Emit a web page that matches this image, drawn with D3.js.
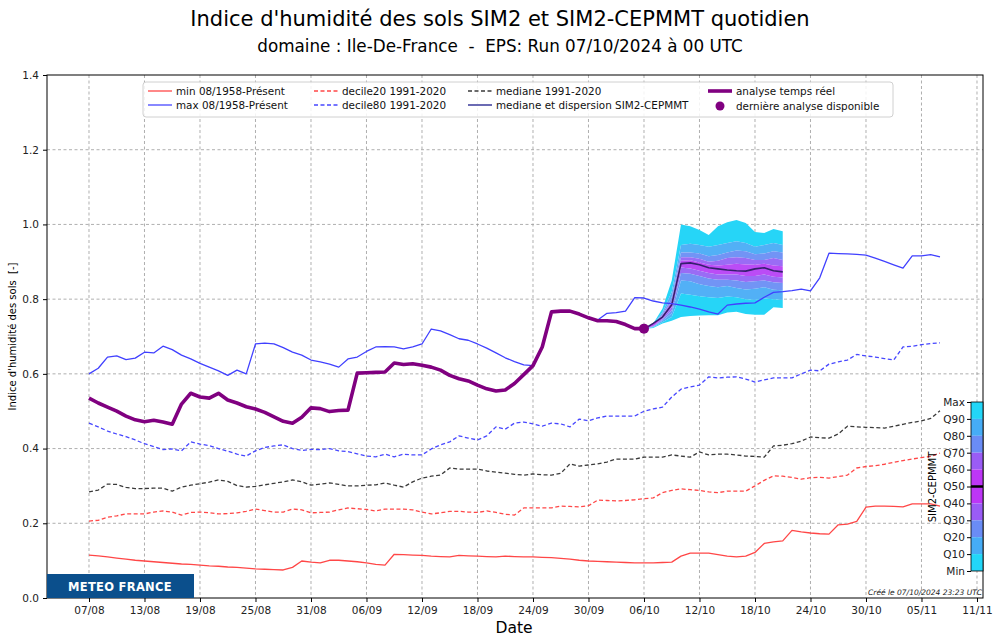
<!DOCTYPE html>
<html><head><meta charset="utf-8">
<script src="https://cdn.jsdelivr.net/npm/d3@7"></script>
<style>
html,body{margin:0;padding:0;background:#fff;}
svg{display:block;font-family:"DejaVu Sans",sans-serif;}
</style></head>
<body><svg id="chart" width="1000" height="643"></svg>
<script>
// ---- DATA (day offsets counted from 07/08/2024) ----
const startDate = "2024-08-07";
const xTickLabels = ["07/08","13/08","19/08","25/08","31/08","06/09","12/09","18/09","24/09","30/09","06/10","12/10","18/10","24/10","30/10","05/11","11/11"];
const yTicks = [0.0,0.2,0.4,0.6,0.8,1.0,1.2,1.4];

const minSeries = [0.115,0.113,0.110,0.107,0.104,0.101,0.099,0.097,0.095,0.093,0.091,0.090,0.088,0.086,0.085,0.083,0.082,0.080,0.078,0.077,0.076,0.075,0.082,0.099,0.096,0.094,0.101,0.101,0.099,0.097,0.094,0.090,0.088,0.117,0.116,0.115,0.114,0.112,0.111,0.110,0.114,0.113,0.112,0.111,0.110,0.112,0.111,0.110,0.110,0.109,0.108,0.106,0.104,0.101,0.099,0.098,0.097,0.096,0.095,0.094,0.094,0.094,0.095,0.096,0.112,0.120,0.120,0.120,0.116,0.112,0.110,0.112,0.122,0.146,0.150,0.153,0.181,0.177,0.174,0.172,0.171,0.196,0.198,0.205,0.243,0.246,0.246,0.245,0.244,0.252,0.252,0.252,0.246];
const maxSeries = [0.600,0.615,0.645,0.648,0.638,0.642,0.658,0.656,0.674,0.665,0.650,0.640,0.628,0.618,0.608,0.596,0.610,0.600,0.680,0.682,0.680,0.670,0.658,0.650,0.637,0.632,0.626,0.618,0.640,0.645,0.660,0.672,0.673,0.672,0.667,0.672,0.680,0.720,0.715,0.705,0.694,0.690,0.680,0.669,0.656,0.643,0.633,0.624,0.622,0.672,0.766,0.768,0.768,0.760,0.750,0.744,0.762,0.764,0.768,0.804,0.803,0.795,0.790,0.788,0.784,0.779,0.773,0.766,0.760,0.784,0.787,0.789,0.790,0.805,0.818,0.820,0.823,0.827,0.822,0.857,0.923,0.922,0.921,0.920,0.918,0.910,0.901,0.892,0.883,0.916,0.916,0.919,0.913];
const decile20Series = [0.206,0.208,0.216,0.220,0.225,0.225,0.225,0.230,0.233,0.230,0.222,0.229,0.230,0.228,0.225,0.226,0.228,0.232,0.238,0.234,0.230,0.230,0.238,0.236,0.228,0.229,0.230,0.236,0.241,0.239,0.237,0.233,0.238,0.238,0.238,0.236,0.230,0.225,0.228,0.232,0.232,0.230,0.229,0.233,0.229,0.224,0.222,0.241,0.241,0.241,0.241,0.246,0.245,0.244,0.247,0.262,0.261,0.260,0.261,0.263,0.266,0.268,0.282,0.288,0.292,0.290,0.288,0.284,0.282,0.286,0.286,0.286,0.300,0.315,0.327,0.326,0.323,0.318,0.322,0.323,0.321,0.325,0.329,0.348,0.352,0.354,0.358,0.363,0.368,0.372,0.376,0.379,0.388];
const decile80Series = [0.468,0.458,0.447,0.439,0.432,0.423,0.413,0.405,0.397,0.399,0.394,0.418,0.412,0.408,0.400,0.393,0.385,0.380,0.394,0.403,0.407,0.410,0.400,0.395,0.398,0.397,0.400,0.394,0.392,0.386,0.380,0.378,0.385,0.378,0.385,0.383,0.383,0.399,0.410,0.418,0.434,0.428,0.423,0.434,0.458,0.452,0.468,0.471,0.466,0.460,0.468,0.466,0.458,0.479,0.474,0.482,0.487,0.487,0.487,0.487,0.500,0.506,0.511,0.538,0.559,0.565,0.570,0.592,0.589,0.591,0.592,0.586,0.578,0.584,0.589,0.589,0.589,0.600,0.610,0.608,0.626,0.632,0.637,0.652,0.648,0.645,0.641,0.637,0.672,0.674,0.678,0.681,0.683];
const medianSeries = [0.284,0.289,0.305,0.304,0.296,0.293,0.293,0.294,0.294,0.286,0.297,0.302,0.306,0.310,0.316,0.312,0.301,0.297,0.299,0.303,0.307,0.311,0.316,0.311,0.302,0.305,0.308,0.304,0.300,0.300,0.302,0.303,0.308,0.302,0.297,0.311,0.321,0.326,0.329,0.348,0.345,0.345,0.345,0.340,0.337,0.334,0.331,0.329,0.332,0.330,0.329,0.334,0.359,0.353,0.356,0.359,0.364,0.372,0.372,0.372,0.377,0.377,0.377,0.383,0.380,0.377,0.391,0.383,0.385,0.385,0.383,0.380,0.379,0.377,0.407,0.409,0.413,0.420,0.431,0.429,0.428,0.439,0.460,0.458,0.457,0.456,0.455,0.460,0.465,0.470,0.474,0.481,0.501];
const analysisSeries = [0.535,0.522,0.511,0.500,0.487,0.477,0.472,0.476,0.471,0.465,0.519,0.548,0.538,0.535,0.548,0.530,0.522,0.512,0.506,0.497,0.485,0.473,0.468,0.484,0.509,0.507,0.499,0.502,0.503,0.602,0.603,0.604,0.605,0.629,0.625,0.627,0.623,0.618,0.610,0.596,0.587,0.581,0.570,0.560,0.554,0.557,0.574,0.598,0.622,0.672,0.766,0.768,0.768,0.760,0.750,0.742,0.742,0.740,0.732,0.721,0.721];

// ensemble SIM2-CEPMMT, days 60..75
const ensStartDay = 60;
const ensMax = [0.721,0.735,0.775,0.850,1.000,0.995,0.985,0.972,0.995,1.006,1.012,1.004,0.980,0.977,0.988,0.982];
const ensQ90 = [0.721,0.733,0.765,0.820,0.945,0.948,0.945,0.940,0.945,0.950,0.955,0.950,0.940,0.945,0.950,0.945];
const ensQ80 = [0.721,0.732,0.760,0.805,0.925,0.925,0.922,0.915,0.918,0.925,0.930,0.928,0.920,0.922,0.928,0.925];
const ensQ70 = [0.721,0.731,0.757,0.795,0.912,0.912,0.908,0.900,0.903,0.910,0.912,0.910,0.905,0.905,0.910,0.905];
const ensQ60 = [0.721,0.730,0.755,0.790,0.903,0.904,0.898,0.892,0.890,0.892,0.895,0.893,0.892,0.895,0.890,0.888];
const ensQ50 = [0.720,0.735,0.752,0.785,0.895,0.897,0.892,0.884,0.881,0.878,0.876,0.875,0.881,0.884,0.876,0.873];
const ensQ40 = [0.720,0.728,0.748,0.778,0.885,0.882,0.876,0.870,0.866,0.866,0.866,0.862,0.862,0.866,0.860,0.858];
const ensQ30 = [0.720,0.727,0.745,0.770,0.870,0.868,0.862,0.855,0.852,0.852,0.850,0.846,0.848,0.850,0.845,0.843];
const ensQ20 = [0.720,0.726,0.742,0.762,0.850,0.848,0.840,0.835,0.832,0.835,0.830,0.826,0.828,0.832,0.825,0.824];
const ensQ10 = [0.720,0.725,0.738,0.752,0.815,0.812,0.808,0.805,0.803,0.807,0.805,0.800,0.798,0.802,0.800,0.798];
const ensMin = [0.720,0.723,0.735,0.742,0.752,0.755,0.756,0.757,0.757,0.764,0.766,0.760,0.758,0.758,0.778,0.776];
const colorbarLabels = ["Max","Q90","Q80","Q70","Q60","Q50","Q40","Q30","Q20","Q10","Min"];
const bandColors = ["#22d6f8","#46acf6","#6a8cf5","#9a5cf5","#bd36f6","#bd36f6","#9a5cf5","#6a8cf5","#46acf6","#22d6f8"];
const plotBandColors = ["#26d5f7","#52b0f6","#7294f5","#9a6cf5","#bb4cf6","#bb4cf6","#9a6cf5","#7294f5","#52b0f6","#26d5f7"];

// ---- DRAWING ----
const svg = d3.select("#chart");
const W = 1000, H = 643;
const M = {left:47, right:983, top:75, bottom:598};
const DAY = 864e5;
const base = new Date(startDate + "T00:00:00Z").getTime();
const dayDate = d => new Date(base + d*DAY);

const x = d3.scaleUtc().domain([dayDate(-4.54), dayDate(96.65)]).range([M.left, M.right]);
const y = d3.scaleLinear().domain([0,1.4]).range([M.bottom, M.top]);

svg.append("rect").attr("width",W).attr("height",H).attr("fill","#fff");

const tickDates = xTickLabels.map((_,i)=>dayDate(i*6));

// grid
const grid = svg.append("g");
grid.selectAll("line.gx").data(tickDates).join("line")
  .attr("x1",d=>x(d)).attr("x2",d=>x(d)).attr("y1",M.top).attr("y2",M.bottom)
  .attr("stroke","#9a9a9a").attr("stroke-width",0.8).attr("stroke-dasharray","3,2.5");
grid.selectAll("line.gy").data(yTicks.slice(1,-1)).join("line")
  .attr("x1",M.left).attr("x2",M.right).attr("y1",d=>y(d)).attr("y2",d=>y(d))
  .attr("stroke","#9a9a9a").attr("stroke-width",0.8).attr("stroke-dasharray","3,2.5");

const lineGen = d3.line().x(d=>x(dayDate(d[0]))).y(d=>y(d[1]));
const toPts = (arr, off=0) => arr.map((v,i)=>[i+off, v]);

function drawLine(arr, color, width, dash, off=0){
  svg.append("path").datum(toPts(arr,off)).attr("d",lineGen)
    .attr("fill","none").attr("stroke",color).attr("stroke-width",width)
    .attr("stroke-dasharray",dash||null).attr("stroke-linejoin","round");
}
drawLine(minSeries,"#ff4747",1.3);
drawLine(decile20Series,"#ff4747",1.3,"4,2.5");
drawLine(medianSeries,"#3a3a3a",1.3,"4,2.5");
drawLine(decile80Series,"#4747ff",1.3,"4,2.5");

// ensemble bands
const bounds = [ensMax,ensQ90,ensQ80,ensQ70,ensQ60,ensQ50,ensQ40,ensQ30,ensQ20,ensQ10,ensMin];
const area = d3.area().x(d=>x(dayDate(d.day))).y0(d=>y(d.lo)).y1(d=>y(d.hi));
for(let b=0;b<10;b++){
  const hi = bounds[b], lo = bounds[b+1];
  const pts = hi.map((v,i)=>({day:ensStartDay+i, hi:v, lo:lo[i]}));
  svg.append("path").datum(pts).attr("d",area).attr("fill",plotBandColors[b]).attr("stroke","none");
}
drawLine(ensQ50,"#35206e",1.6,null,ensStartDay);

drawLine(maxSeries,"#4040ff",1.3);

// analysis
drawLine(analysisSeries,"#800080",3.6);
const lastDay = analysisSeries.length-1;
svg.append("circle").attr("cx",x(dayDate(lastDay))).attr("cy",y(analysisSeries[lastDay])).attr("r",5).attr("fill","#800080");

// frame
svg.append("rect").attr("x",M.left).attr("y",M.top).attr("width",M.right-M.left).attr("height",M.bottom-M.top)
  .attr("fill","none").attr("stroke","#000").attr("stroke-width",1);

const xAxis = d3.axisBottom(x).tickValues(tickDates).tickFormat((d,i)=>xTickLabels[i]).tickSize(4).tickPadding(5);
const gx = svg.append("g").attr("transform",`translate(0,${M.bottom})`).call(xAxis);
gx.select(".domain").remove();
gx.selectAll("text").attr("font-size",10.5).attr("fill","#222").attr("font-family","DejaVu Sans");

const yAxis = d3.axisLeft(y).tickValues(yTicks).tickFormat(d3.format(".1f")).tickSize(4).tickPadding(4);
const gy = svg.append("g").attr("transform",`translate(${M.left},0)`).call(yAxis);
gy.select(".domain").remove();
gy.selectAll("text").attr("font-size",10.5).attr("fill","#222").attr("font-family","DejaVu Sans");

// titles
svg.append("text").attr("x",500).attr("y",26).attr("text-anchor","middle").attr("font-size",21).attr("fill","#000")
  .text("Indice d'humidité des sols SIM2 et SIM2-CEPMMT quotidien");
svg.append("text").attr("x",500).attr("y",52).attr("text-anchor","middle").attr("font-size",16.8).attr("fill","#000")
  .style("white-space","pre")
  .text("domaine : Ile-De-France  -  EPS: Run 07/10/2024 à 00 UTC");
svg.append("text").attr("x",514).attr("y",633).attr("text-anchor","middle").attr("font-size",15.5).text("Date");
svg.append("text").attr("transform",`translate(16,${(M.top+M.bottom)/2}) rotate(-90)`).attr("text-anchor","middle")
  .attr("font-size",10).style("white-space","pre").text("Indice d'humidité des sols  [-]");

// legend
const lg = svg.append("g");
lg.append("rect").attr("x",143).attr("y",82).attr("width",750).attr("height",35).attr("rx",3)
  .attr("fill","#fff").attr("fill-opacity",0.85).attr("stroke","#d0d0d0");
const legendItems = [
  {x:148,y:91,label:"min 08/1958-Présent",color:"#ff4747",w:1.3},
  {x:148,y:105,label:"max 08/1958-Présent",color:"#4747ff",w:1.3},
  {x:314,y:91,label:"decile20 1991-2020",color:"#ff4747",w:1.3,dash:"4,2.5"},
  {x:314,y:105,label:"decile80 1991-2020",color:"#4747ff",w:1.3,dash:"4,2.5"},
  {x:468,y:91,label:"mediane 1991-2020",color:"#3a3a3a",w:1.3,dash:"4,2.5"},
  {x:468,y:105,label:"mediane et dispersion SIM2-CEPMMT",color:"#6b6bb3",w:2},
  {x:708,y:91,label:"analyse temps réel",color:"#800080",w:3.6}
];
legendItems.forEach(it=>{
  lg.append("line").attr("x1",it.x).attr("x2",it.x+24).attr("y1",it.y).attr("y2",it.y)
    .attr("stroke",it.color).attr("stroke-width",it.w).attr("stroke-dasharray",it.dash||null);
  lg.append("text").attr("x",it.x+28).attr("y",it.y+3.8).attr("font-size",10.4).attr("fill","#111").text(it.label);
});
lg.append("circle").attr("cx",720).attr("cy",106).attr("r",4.5).attr("fill","#800080");
lg.append("text").attr("x",736).attr("y",109.8).attr("font-size",10.4).attr("fill","#111").text("dernière analyse disponible");

// colorbar
const cbX = 971, cbW = 12, cbTop = 402, cbBot = 571;
const cbScale = d3.scalePoint().domain(colorbarLabels).range([cbTop, cbBot]);
const cb = svg.append("g");
bandColors.forEach((c,i)=>{
  const y0 = cbScale(colorbarLabels[i]), y1 = cbScale(colorbarLabels[i+1]);
  cb.append("rect").attr("x",cbX).attr("y",y0).attr("width",cbW).attr("height",y1-y0).attr("fill",c);
});
cb.append("line").attr("x1",cbX).attr("x2",cbX+cbW).attr("y1",cbScale("Q50")).attr("y2",cbScale("Q50")).attr("stroke","#000").attr("stroke-width",2.5);
cb.append("rect").attr("x",cbX).attr("y",cbTop).attr("width",cbW).attr("height",cbBot-cbTop).attr("fill","none").attr("stroke","#000").attr("stroke-width",0.8);
const cbAxis = d3.axisLeft(cbScale).tickSize(4).tickPadding(2);
const gcb = svg.append("g").attr("transform",`translate(${cbX},0)`).call(cbAxis);
gcb.select(".domain").remove();
gcb.selectAll("text").attr("font-size",10.5).attr("fill","#222").attr("font-family","DejaVu Sans");
svg.append("text").attr("transform",`translate(936,487) rotate(-90)`).attr("text-anchor","middle").attr("font-size",10).text("SIM2-CEPMMT");

// logo
svg.append("rect").attr("x",47).attr("y",574).attr("width",147).attr("height",24).attr("fill","#0b4f8c");
svg.append("text").attr("x",120).attr("y",590.5).attr("text-anchor","middle").attr("font-size",11.5).attr("font-weight","bold")
  .attr("fill","#fff").attr("letter-spacing",0.3).text("METEO FRANCE");

// creation note
svg.append("text").attr("x",982).attr("y",595).attr("text-anchor","end").attr("font-size",7.5).attr("font-style","italic")
  .attr("fill","#222").text("Créé le 07/10/2024 23:23 UTC");
</script></body></html>
